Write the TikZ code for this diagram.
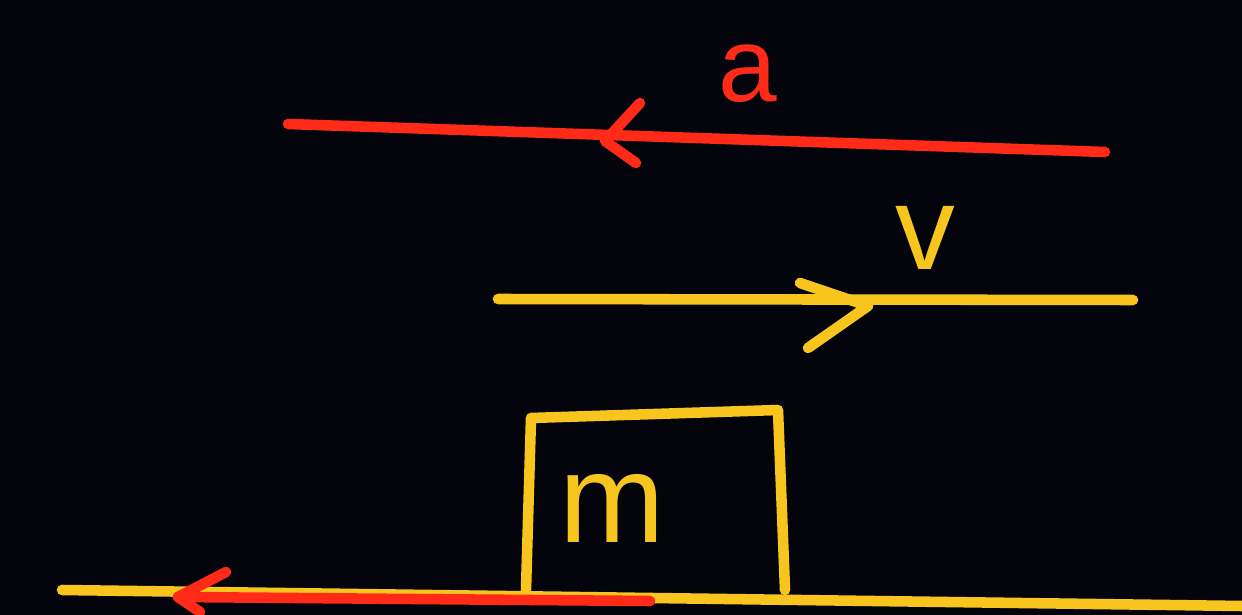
\documentclass[tikz,border=0pt]{standalone}
\usepackage{fontspec}
\setmainfont{Liberation Sans}
\definecolor{bg}{HTML}{04040C}
\definecolor{pred}{HTML}{FF2A18}
\definecolor{pyel}{HTML}{F7C51E}
\begin{document}
\begin{tikzpicture}[x=0.02cm,y=-0.02cm,
  stroke/.style={line width=6pt,line cap=round,line join=round},
  lab/.style={inner sep=0pt,font=\fontsize{60}{66}\selectfont}]
\fill[bg] (0,0) rectangle (1242,615);
\useasboundingbox (0,0) rectangle (1242,615);
% acceleration arrow
\coordinate (a1) at (1105,152);
\coordinate (a2) at (288,124);
\coordinate (atip) at (605,141);
\coordinate (ab1) at (640,103);
\coordinate (ab2) at (636,163);
\draw[stroke,pred] (a1) -- (a2);
\draw[stroke,pred] (ab1) -- (atip) -- (ab2);
\node[lab,text=pred] (alab) at (748,74) {a};
% velocity arrow
\coordinate (v1) at (498,299);
\coordinate (v2) at (1133,300);
\coordinate (vtip) at (868,306);
\coordinate (vb1) at (800,283);
\coordinate (vb2) at (808,348);
\draw[stroke,pyel] (v1) -- (v2);
\draw[stroke,pyel] (vb1) -- (vtip) -- (vb2);
\node[lab,text=pyel,font=\fontsize{68}{72}\selectfont] (vlab) at (925,238) {v};
% block
\coordinate (b1) at (526,590);
\coordinate (b2) at (531,418);
\coordinate (b3) at (778,410);
\coordinate (b4) at (785,590);
\draw[stroke,pyel] (b1) -- (b2) -- (b3) -- (b4);
\node[lab,text=pyel,font=\fontsize{72}{78}\selectfont] (mlab) at (612,508) {m};
% ground
\coordinate (g1) at (62,590);
\coordinate (g2) at (1242,606);
\draw[stroke,pyel] (g1) -- (g2);
\coordinate (r1) at (650,601);
\coordinate (rtip) at (178,597);
\coordinate (rb1) at (226,572);
\coordinate (rb2) at (200,612);
\draw[stroke,pred] (r1) -- (rtip);
\draw[stroke,pred] (rb1) -- (rtip) -- (rb2);
\end{tikzpicture}
\end{document}
